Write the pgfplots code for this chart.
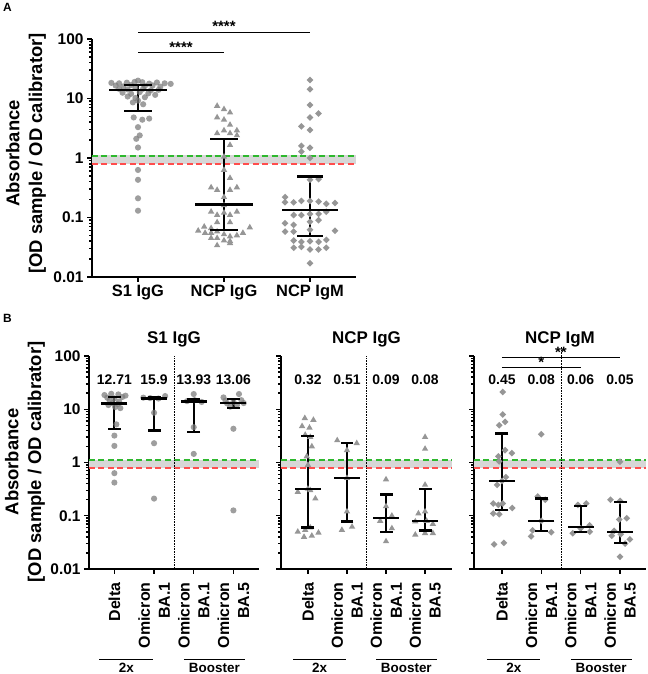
\documentclass[border=0pt]{standalone}
\usepackage{pgfplots}
\pgfplotsset{compat=1.18}
\usepackage{fontspec}
\setmainfont{Liberation Sans}
\newcommand{\fs}[2]{\fontsize{#1}{#2}\selectfont\bfseries}
\definecolor{refgreen}{RGB}{46,184,46}
\definecolor{refred}{RGB}{255,77,77}
\definecolor{bandgray}{RGB}{215,215,215}
\definecolor{ptgray}{RGB}{125,125,125}
\definecolor{ptgray2}{RGB}{150,150,150}

\pgfplotsset{
 myaxbase/.style={
  scale only axis, clip=false,
  axis x line*=bottom, axis y line*=left,
  axis line style={-, line width=2pt},
  tick style={black, line width=1.5pt},
  tick align=outside, major tick length=5bp, minor tick length=3bp,
  ytick={0.01,0.1,1,10,100},
  minor ytick={0.02,0.03,0.04,0.05,0.06,0.07,0.08,0.09,0.2,0.3,0.4,0.5,0.6,0.7,0.8,0.9,2,3,4,5,6,7,8,9,20,30,40,50,60,70,80,90},
  yticklabel style={font=\fs{15.5}{17}},
 },
 myaxA/.style={myaxbase, width=264bp, height=238bp, xmin=-0.535, xmax=2.535,
  xtick={0,1,2}, xticklabels={S1 IgG,NCP IgG,NCP IgM},
  yticklabels={0.01,0.1,1,10,100},
  xticklabel style={font=\fs{16.5}{18}}},
 myaxB/.style={myaxbase, height=213bp, xtick={0,1,2,3},
  xticklabels={Delta,{Omicron\\BA.1},{Omicron\\BA.1},{Omicron\\BA.5}},
  xticklabel style={yshift=-5bp, rotate=90, anchor=east, align=right, font=\fs{16}{20}}},
 mycirc/.style={only marks, mark=*, mark size=3.1, color=ptgray, mark options={draw opacity=0, fill opacity=0.75}},
 mytri/.style={only marks, mark=triangle*, mark size=3.7, color=ptgray2, mark options={draw opacity=0}},
 mydia/.style={only marks, mark=square*, mark size=2.4, color=ptgray2, mark options={rotate=45, draw opacity=0}},
}

% x, median, low, high, median half width, cap half width
\newcommand{\eb}[6]{%
  \addplot[black, line width=2.2pt] coordinates {(#1,#3) (#1,#4)};
  \addplot[black, only marks, mark=-, mark size=#6, mark options={line width=2.2pt}] coordinates {(#1,#3) (#1,#4)};
  \addplot[black, only marks, mark=-, mark size=#5, mark options={line width=2.5pt}] coordinates {(#1,#2)};
}
\newcommand{\reflines}[2]{%
  \addplot[draw=none, fill=bandgray] coordinates {(#1,0.78) (#2,0.78) (#2,1.13) (#1,1.13)};
  \addplot[refgreen, line width=2pt, dash pattern=on 6pt off 3.5pt] coordinates {(#1,1.1) (#2,1.1)};
  \addplot[refred, line width=2pt, dash pattern=on 6pt off 3.5pt] coordinates {(#1,0.8) (#2,0.8)};
}
\newcommand{\groups}{%
  \draw[line width=0.8pt] ([yshift=-90bp]axis cs:-0.38,0.01) -- ([yshift=-90bp]axis cs:0.97,0.01);
  \draw[line width=0.8pt] ([yshift=-90bp]axis cs:1.75,0.01) -- ([yshift=-90bp]axis cs:3.3,0.01);
  \node[anchor=north, inner sep=0pt, font=\fs{13.5}{15}] at ([yshift=-94bp]axis cs:0.3,0.01) {2x};
  \node[anchor=north, inner sep=0pt, font=\fs{13.5}{15}] at ([yshift=-94bp]axis cs:2.52,0.01) {Booster};
}
\newcommand{\medlabels}[4]{%
  \node[font=\fs{14}{16}] at (axis cs:0,35.5) {#1};
  \node[font=\fs{14}{16}] at (axis cs:1,35.5) {#2};
  \node[font=\fs{14}{16}] at (axis cs:2,35.5) {#3};
  \node[font=\fs{14}{16}] at (axis cs:3,35.5) {#4};
}

\begin{document}
\begin{tikzpicture}
\useasboundingbox (0,0) rectangle (648bp,674bp);

% ---------------- Panel A ----------------
\begin{axis}[ymode=log, ymin=0.01, ymax=100, myaxA, at={(92bp,397bp)}, anchor=south west]
\reflines{-0.535}{2.535}
\addplot[mycirc] coordinates {
(-0.31,18.3) (-0.22,18.0) (-0.13,18.5) (-0.04,19.0) (0.00,20.0) (0.05,18.8) (0.13,17.8) (0.22,18.6) (0.31,18.0) (0.38,17.6)
(-0.26,16.5) (-0.17,16.0) (-0.08,16.8) (0.08,16.2) (0.17,16.6) (0.26,15.8)
(-0.22,14.5) (-0.12,14.2) (-0.03,15.0) (0.06,14.6) (0.15,13.8) (0.24,14.0)
(-0.18,12.5) (-0.08,12.0) (0.02,12.8) (0.12,12.2) (0.20,11.5)
(-0.12,10.8) (-0.03,10.2) (0.08,10.5) (0.00,9.2)
(-0.06,8.6) (0.06,8.0)
(-0.05,4.8) (0.05,4.4) (0.13,4.6)
(0,3.3) (0.02,2.4) (-0.02,2.1) (0,1.5) (0,0.63) (0,0.43) (0,0.21) (0,0.13)
};
\addplot[mytri] coordinates {
(0.92,7.5) (1.00,6.6) (1.07,5.8) (0.92,4.8) (1.00,4.4) (1.07,3.6)
(0.92,2.6) (1.00,2.9) (1.07,2.6) (1.15,2.9) (1.15,2.4)
(1.07,1.65) (1.00,1.05) (1.00,0.63) (1.07,0.46)
(0.85,0.32) (0.92,0.29) (1.07,0.29) (1.15,0.32) (1.00,0.22) (1.00,0.16)
(0.85,0.125) (0.92,0.11) (1.00,0.12) (1.07,0.11) (1.15,0.125)
(0.92,0.083) (1.07,0.083)
(0.77,0.07) (0.85,0.066) (0.70,0.06) (0.78,0.055) (0.85,0.055) (0.92,0.058) (1.30,0.068) (1.22,0.055) (1.00,0.052) (1.07,0.048) (1.15,0.05)
(0.85,0.045) (0.92,0.045) (1.07,0.04) (1.00,0.041)
(0.92,0.034) (1.07,0.037)
};
\addplot[mydia] coordinates {
(2,20.4) (2,14.3) (2,7.8) (2,4.8) (2.1,5.6) (1.9,3.4) (2,2.95) (1.9,1.6) (2,1.48) (1.9,1.28) (2,1.0)
(2.1,0.44) (2,0.43)
(1.71,0.22)
(1.71,0.18) (1.81,0.18) (1.9,0.19) (2,0.19) (2.1,0.185) (2.19,0.17) (2.29,0.175)
(1.81,0.11) (1.9,0.11) (2,0.115) (2.1,0.115) (2.19,0.125)
(1.71,0.08) (1.81,0.075) (2,0.085) (2.1,0.09)
(1.71,0.058) (1.81,0.058) (2.29,0.06) (2,0.062)
(1.81,0.041) (1.9,0.039) (2,0.04) (2.1,0.039) (2.19,0.042)
(1.81,0.031) (1.9,0.032) (2.1,0.029) (2.19,0.031) (2,0.029)
(2,0.017)
};
\eb{0}{13.8}{6.2}{16.9}{29}{14}
\eb{1}{0.165}{0.061}{2.07}{29}{14}
\eb{2}{0.133}{0.049}{0.49}{28}{13}
\draw[line width=1pt] (axis cs:0,59) -- (axis cs:1,59) node[midway, anchor=base, yshift=0.5bp, font=\fs{15}{17}] {****};
\draw[line width=1pt] (axis cs:0,131) -- (axis cs:2,131) node[midway, anchor=base, yshift=0.5bp, font=\fs{15}{17}] {****};
\end{axis}

% ---------------- Panel B: S1 IgG ----------------
\begin{axis}[ymode=log, ymin=0.01, ymax=100, myaxB, at={(89bp,105bp)}, anchor=south west, width=170bp, xmin=-0.64, xmax=3.645,
  yticklabels={0.01,0.1,1,10,100}]
\reflines{-0.64}{3.645}
\addplot[black, line width=0.6pt, densely dotted] coordinates {(1.5,0.01) (1.5,100)};
\addplot[mycirc] coordinates {
(-0.25,18.5) (-0.08,19.5) (0.1,19) (0.28,18) (-0.18,16.5) (0,16) (0.2,17) (-0.12,14.5) (0.12,14) (-0.05,13) (0.08,12.5) (-0.15,12) (0.02,11) (0.15,10.5) (0.05,5.2) (0,3.2) (0,2.05) (0,0.63) (0,0.42)
(0.73,16.5) (0.9,16.2) (1.11,15.9) (1.28,17.7) (1,8.6) (1,2.3) (1,0.21)
(2,19.3) (1.83,14.2) (2.2,13.7) (2.02,14.8) (2,4.6) (2,1.45)
(2.75,16.7) (3.14,19.3) (3,13.8) (2.84,12.9) (3.26,13.06) (2.92,11.2) (3.09,12.0) (2.8,14.5) (3.2,14.8) (3,4.3) (3,0.126)
};
\eb{0}{12.71}{4.2}{17.2}{13}{6.5}
\eb{1}{15.9}{4.0}{17.2}{13}{6.5}
\eb{2}{13.93}{3.8}{15.4}{13}{6.5}
\eb{3}{13.06}{10.4}{15.4}{13}{6.5}
\medlabels{12.71}{15.9}{13.93}{13.06}
\node[font=\fs{17}{19}] at ([yshift=17bp]rel axis cs:0.5,1) {S1 IgG};
\groups
\end{axis}

% ---------------- Panel B: NCP IgG ----------------
\begin{axis}[ymode=log, ymin=0.01, ymax=100, myaxB, at={(281bp,105bp)}, anchor=south west, width=171bp, xmin=-0.69, xmax=3.69,
  yticklabels={}]
\reflines{-0.69}{3.69}
\addplot[black, line width=0.6pt, densely dotted] coordinates {(1.5,0.01) (1.5,100)};
\addplot[mytri] coordinates {
(-0.08,6.8) (0.14,6.3) (-0.15,4.8) (0.04,4.5) (-0.07,3.3) (0.06,3.0) (0.1,2.0) (-0.03,1.3) (0,0.9) (0,0.32) (-0.26,0.28) (0.06,0.30) (0.19,0.21) (-0.26,0.05) (-0.07,0.054) (0.06,0.06) (0.27,0.048) (-0.1,0.04) (0.1,0.042)
(0.75,2.6) (1.25,2.3) (1,1.7) (1,0.51) (1,0.12) (0.87,0.054) (1.13,0.062)
(2,0.48) (2,0.15) (2.15,0.1) (1.85,0.08) (2.15,0.058) (2,0.033)
(3,3.0) (3,1.8) (3,0.38) (2.83,0.11) (3,0.12) (2.75,0.078) (3.04,0.08) (3.2,0.07) (2.75,0.044) (3,0.047) (3.2,0.047)
};
\eb{0}{0.32}{0.06}{3.2}{13}{6.5}
\eb{1}{0.51}{0.078}{2.3}{13}{6.5}
\eb{2}{0.09}{0.05}{0.25}{13}{6.5}
\eb{3}{0.08}{0.053}{0.32}{13}{6.5}
\medlabels{0.32}{0.51}{0.09}{0.08}
\node[font=\fs{17}{19}] at ([yshift=17bp]rel axis cs:0.5,1) {NCP IgG};
\groups
\end{axis}

% ---------------- Panel B: NCP IgM ----------------
\begin{axis}[ymode=log, ymin=0.01, ymax=100, myaxB, at={(474bp,105bp)}, anchor=south west, width=172bp, xmin=-0.71, xmax=3.66,
  yticklabels={}]
\reflines{-0.71}{3.66}
\addplot[black, line width=0.6pt, densely dotted] coordinates {(1.5,0.01) (1.5,150)};
\addplot[mydia] coordinates {
(0.02,21) (0.02,8) (-0.07,5) (0.08,5.8) (0.25,1.5) (0.08,1.7) (-0.09,1.3) (-0.07,1.05) (0.1,0.53) (0,0.45) (-0.12,0.38) (-0.22,0.17) (0.02,0.17) (-0.09,0.16) (0.26,0.14) (-0.22,0.11) (-0.07,0.107) (-0.2,0.029) (0.05,0.031)
(1,3.4) (0.91,0.23) (1.1,0.2) (1,0.08) (0.78,0.053) (1.25,0.049) (0.74,0.041)
(1.93,0.16) (2.14,0.17) (2.23,0.066) (1.8,0.047) (2,0.058) (2.23,0.05)
(3,1.03) (2.76,0.2) (3,0.19) (2.98,0.085) (3.17,0.09) (2.85,0.052) (2.79,0.042) (3.02,0.045) (3.25,0.036) (3.13,0.03) (3,0.017)
};
\eb{0}{0.45}{0.13}{3.5}{13}{6.5}
\eb{1}{0.08}{0.051}{0.21}{13}{6.5}
\eb{2}{0.062}{0.05}{0.15}{13}{6.5}
\eb{3}{0.05}{0.031}{0.18}{13}{6.5}
\medlabels{0.45}{0.08}{0.06}{0.05}
\draw[line width=1pt] (axis cs:0,93) -- (axis cs:3,93) node[midway, anchor=base, yshift=0.5bp, font=\fs{15}{17}] {**};
\draw[line width=1pt] (axis cs:0,60) -- (axis cs:2,60) node[midway, anchor=base, yshift=0.5bp, font=\fs{15}{17}] {*};
\node[font=\fs{17}{19}] at ([yshift=17bp]rel axis cs:0.5,1) {NCP IgM};
\groups
\end{axis}

% ---------------- labels ----------------
\node[rotate=90, align=center, font=\fs{18.5}{23}] at (26bp,520.5bp) {Absorbance\\{[}OD sample / OD calibrator{]}};
\node[rotate=90, align=center, font=\fs{18.5}{23}] at (25bp,212bp) {Absorbance\\{[}OD sample / OD calibrator{]}};
\node[font=\fs{12}{14}] at (7.5bp,666.5bp) {A};
\node[font=\fs{12}{14}] at (7.5bp,356bp) {B};
\end{tikzpicture}
\end{document}
